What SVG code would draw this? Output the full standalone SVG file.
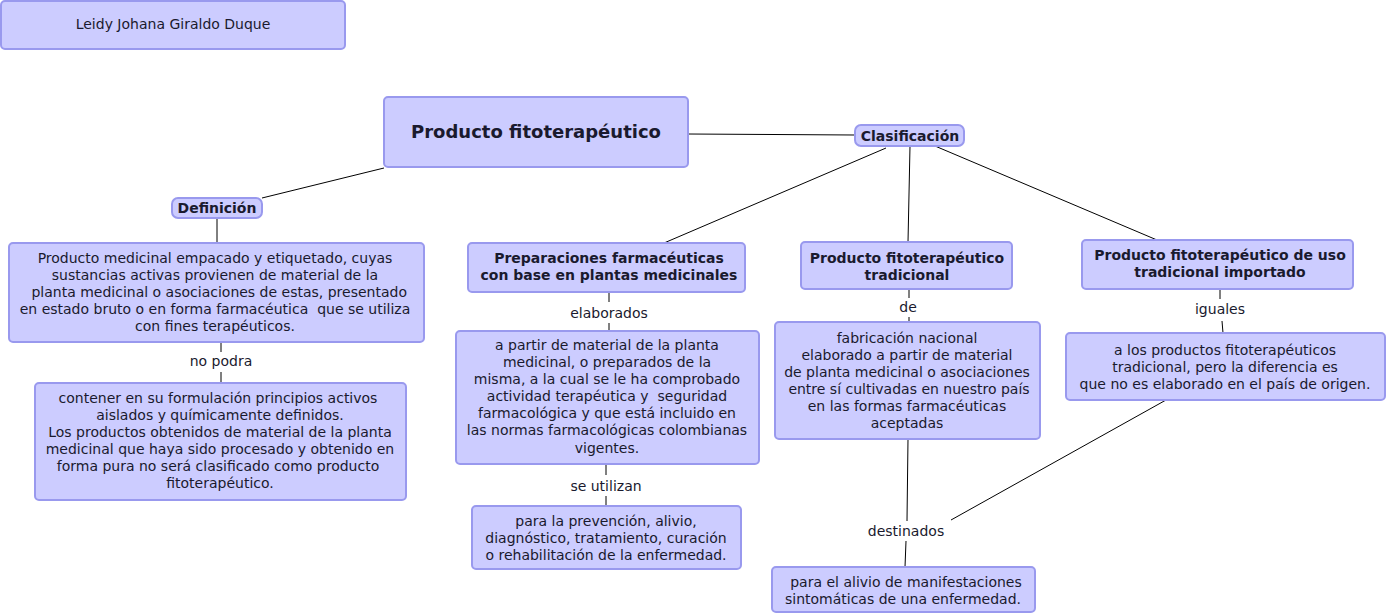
<svg xmlns="http://www.w3.org/2000/svg" width="1388" height="615" viewBox="0 0 1388 615">
<style>
.n{fill:#ccccff;stroke:#9999ee;stroke-width:2}
text{font-family:"DejaVu Sans",Verdana,sans-serif;font-size:14px;fill:#1a1a2e;text-anchor:middle;dominant-baseline:central;white-space:pre}
.b{font-weight:bold}
.c line{stroke:#000;stroke-width:1}
</style>
<rect width="1388" height="615" fill="#fff"/>
<g class="c">
<line x1="688" y1="134" x2="855" y2="135"/>
<line x1="384" y1="168" x2="262" y2="198"/>
<line x1="886" y1="148" x2="664" y2="243"/>
<line x1="910" y1="146" x2="908" y2="242"/>
<line x1="935" y1="146" x2="1157" y2="240"/>
<line x1="217" y1="218" x2="217" y2="243"/>
<line x1="221" y1="342" x2="221" y2="352"/>
<line x1="221" y1="372" x2="221" y2="383"/>
<line x1="609" y1="292" x2="609" y2="302"/>
<line x1="609" y1="323" x2="609" y2="331"/>
<line x1="606" y1="464" x2="606" y2="475"/>
<line x1="606" y1="496" x2="606" y2="506"/>
<line x1="909" y1="289" x2="909" y2="298"/>
<line x1="909" y1="317" x2="909" y2="322"/>
<line x1="908" y1="439" x2="907" y2="521"/>
<line x1="906" y1="541" x2="905" y2="567"/>
<line x1="1166" y1="400" x2="951" y2="520"/>
<line x1="1220" y1="289" x2="1220" y2="299"/>
<line x1="1222" y1="321" x2="1223" y2="333"/>
</g>
<g id="autor"><rect class="n" x="1" y="1" width="344" height="48" rx="4"/><text x="173" y="24">Leidy Johana Giraldo Duque</text></g>
<g id="main"><rect class="n" x="384" y="97" width="304" height="70" rx="4"/><text class="b" x="536" y="131" style="font-size:18px">Producto fitoterapéutico</text></g>
<g id="clasificacion"><rect class="n" x="855" y="125" width="109" height="21" rx="6"/><text class="b" x="910" y="136">Clasificación</text></g>
<g id="definicion"><rect class="n" x="172" y="198" width="90" height="20" rx="6"/><text class="b" x="217" y="208">Definición</text></g>
<g id="def-texto"><rect class="n" x="9" y="243" width="415" height="99" rx="4"/>
<text x="215" y="258">Producto medicinal empacado y etiquetado, cuyas</text>
<text x="215" y="275">sustancias activas provienen de material de la</text>
<text x="217" y="292"> planta medicinal o asociaciones de estas, presentado</text>
<text x="215" y="309">en estado bruto o en forma farmacéutica  que se utiliza</text>
<text x="215" y="326">con fines terapéuticos.</text></g>
<g id="l-nopodra"><text x="221" y="361">no podra</text></g>
<g id="contener"><rect class="n" x="35" y="383" width="371" height="117" rx="4"/>
<text x="218" y="398">contener en su formulación principios activos</text>
<text x="220" y="415">aislados y químicamente definidos.</text>
<text x="220" y="432">Los productos obtenidos de material de la planta</text>
<text x="220" y="449">medicinal que haya sido procesado y obtenido en</text>
<text x="218" y="466">forma pura no será clasificado como producto</text>
<text x="220" y="483">fitoterapéutico.</text></g>
<g id="preparaciones"><rect class="n" x="468" y="243" width="277" height="49" rx="4"/>
<text class="b" x="609" y="258">Preparaciones farmacéuticas</text>
<text class="b" x="609" y="275">con base en plantas medicinales</text></g>
<g id="l-elaborados"><text x="609" y="313">elaborados</text></g>
<g id="apartir"><rect class="n" x="456" y="331" width="303" height="133" rx="4"/>
<text x="607" y="345">a partir de material de la planta</text>
<text x="607" y="362">medicinal, o preparados de la</text>
<text x="607" y="379">misma, a la cual se le ha comprobado</text>
<text x="607" y="396">actividad terapéutica y  seguridad</text>
<text x="607" y="413">farmacológica y que está incluido en</text>
<text x="607" y="430">las normas farmacológicas colombianas</text>
<text x="607" y="448">vigentes.</text></g>
<g id="l-seutilizan"><text x="606" y="486">se utilizan</text></g>
<g id="prevencion"><rect class="n" x="472" y="506" width="269" height="63" rx="4"/>
<text x="606" y="521">para la prevención, alivio,</text>
<text x="606" y="538">diagnóstico, tratamiento, curación</text>
<text x="606" y="555">o rehabilitación de la enfermedad.</text></g>
<g id="tradicional"><rect class="n" x="801" y="242" width="211" height="47" rx="4"/>
<text class="b" x="907" y="258">Producto fitoterapéutico</text>
<text class="b" x="907" y="275">tradicional</text></g>
<g id="l-de"><text x="908" y="307">de</text></g>
<g id="fabricacion"><rect class="n" x="775" y="322" width="265" height="117" rx="4"/>
<text x="907" y="338">fabricación nacional</text>
<text x="907" y="355">elaborado a partir de material</text>
<text x="907" y="372">de planta medicinal o asociaciones</text>
<text x="909" y="389">entre sí cultivadas en nuestro país</text>
<text x="907" y="406">en las formas farmacéuticas</text>
<text x="907" y="423">aceptadas</text></g>
<g id="l-destinados"><text x="906" y="531">destinados</text></g>
<g id="alivio"><rect class="n" x="772" y="567" width="263" height="45" rx="4"/>
<text x="906" y="582">para el alivio de manifestaciones</text>
<text x="903" y="599">sintomáticas de una enfermedad.</text></g>
<g id="importado"><rect class="n" x="1082" y="240" width="271" height="49" rx="4"/>
<text class="b" x="1220" y="255">Producto fitoterapéutico de uso</text>
<text class="b" x="1220" y="272">tradicional importado</text></g>
<g id="l-iguales"><text x="1220" y="309">iguales</text></g>
<g id="alosproductos"><rect class="n" x="1066" y="333" width="319" height="67" rx="4"/>
<text x="1225" y="350">a los productos fitoterapéuticos</text>
<text x="1225" y="367">tradicional, pero la diferencia es</text>
<text x="1225" y="384">que no es elaborado en el país de origen.</text></g>
</svg>
